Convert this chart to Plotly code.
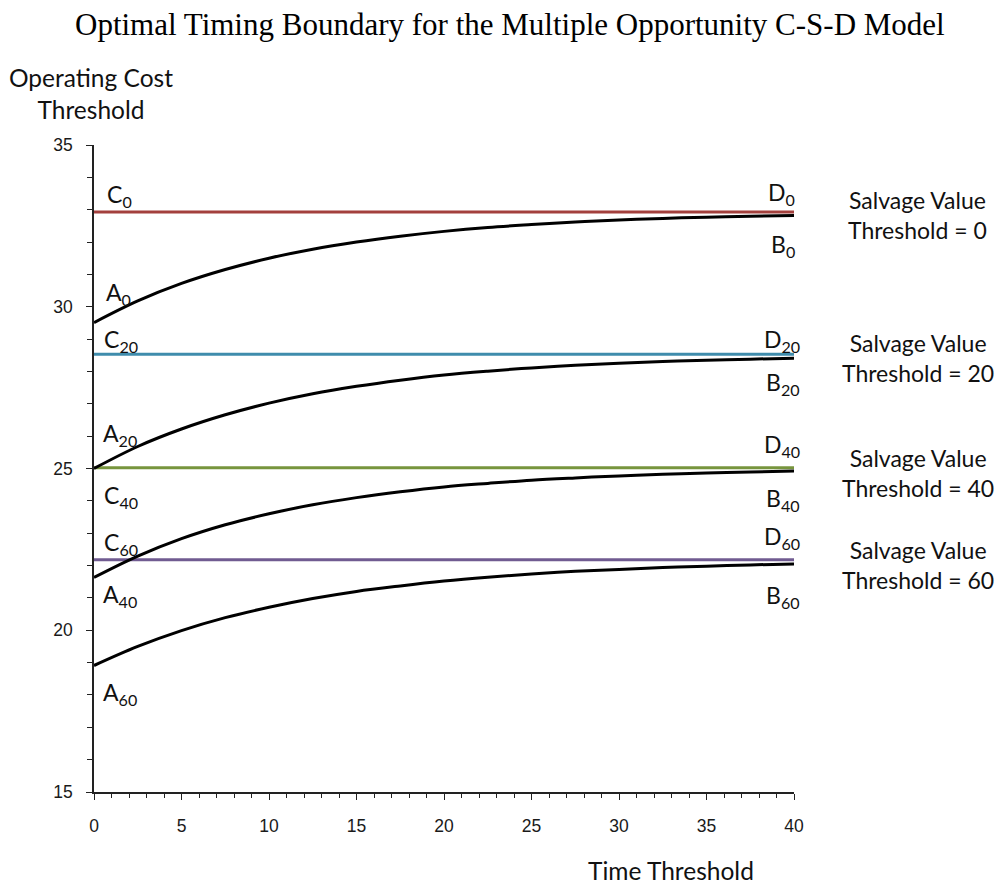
import plotly.graph_objects as go

# ---------------- data ----------------
time_threshold = [0, 2.5, 5, 7.5, 10, 12.5, 15, 17.5, 20, 22.5, 25, 27.5, 30, 32.5, 35, 37.5, 40]

# boundary curves A -> B (operating cost threshold)
curve_0 = [29.51, 30.18, 30.72, 31.15, 31.50, 31.78, 32.00, 32.18, 32.33, 32.45, 32.54, 32.62, 32.68, 32.73, 32.77, 32.80, 32.82]
curve_20 = [25.00, 25.68, 26.22, 26.66, 27.02, 27.31, 27.54, 27.73, 27.89, 28.01, 28.11, 28.19, 28.25, 28.31, 28.35, 28.38, 28.41]
curve_40 = [21.63, 22.29, 22.83, 23.26, 23.60, 23.88, 24.10, 24.28, 24.43, 24.54, 24.64, 24.71, 24.77, 24.82, 24.86, 24.89, 24.92]
curve_60 = [18.91, 19.50, 19.99, 20.39, 20.71, 20.98, 21.20, 21.37, 21.52, 21.64, 21.74, 21.82, 21.88, 21.94, 21.98, 22.02, 22.05]

# horizontal C -> D lines
line_x = [0, 40]
level_0 = 32.93
level_20 = 28.53
level_40 = 25.02
level_60 = 22.18

salvage_values = [0, 20, 40, 60]

x_ticks = [0, 5, 10, 15, 20, 25, 30, 35, 40]
y_ticks = [15, 20, 25, 30, 35]

# ---------------- figure ----------------
LABEL_FONT = "Lato, 'Open Sans', sans-serif"
level_colors = ["#A3403D", "#3F8CAC", "#77953D", "#705B91"]
levels = [level_0, level_20, level_40, level_60]
curves = [curve_0, curve_20, curve_40, curve_60]

fig = go.Figure()
for lev, col, sv in zip(levels, level_colors, salvage_values):
    fig.add_trace(go.Scatter(x=line_x, y=[lev, lev], mode="lines",
                             line=dict(color=col, width=3), name=f"C-D {sv}",
                             showlegend=False, hoverinfo="skip"))
for cur, sv in zip(curves, salvage_values):
    fig.add_trace(go.Scatter(x=time_threshold, y=cur, mode="lines",
                             line=dict(color="black", width=3, shape="spline"),
                             name=f"A-B {sv}", showlegend=False))

annotations = []

def lab(text, x, y, xanchor="center"):
    annotations.append(dict(text=text, x=x, y=y, xref="x", yref="y", showarrow=False,
                            xanchor=xanchor, yanchor="middle",
                            font=dict(family=LABEL_FONT, size=23, color="#111")))

# left-side labels
lab("C<sub>0</sub>", 1.45, 33.45)
lab("A<sub>0</sub>", 1.4, 30.40)
lab("C<sub>20</sub>", 1.55, 28.97)
lab("A<sub>20</sub>", 1.5, 26.04)
lab("C<sub>40</sub>", 1.55, 24.15)
lab("C<sub>60</sub>", 1.55, 22.67)
lab("A<sub>40</sub>", 1.5, 21.06)
lab("A<sub>60</sub>", 1.5, 18.03)
# right-side labels
lab("D<sub>0</sub>", 39.3, 33.49)
lab("B<sub>0</sub>", 39.35, 31.88)
lab("D<sub>20</sub>", 39.3, 28.97)
lab("B<sub>20</sub>", 39.35, 27.64)
lab("D<sub>40</sub>", 39.3, 25.70)
lab("B<sub>40</sub>", 39.35, 24.03)
lab("D<sub>60</sub>", 39.3, 22.86)
lab("B<sub>60</sub>", 39.35, 21.03)

right_y = [32.84, 28.42, 24.86, 22.02]
for sv, yy in zip(salvage_values, right_y):
    annotations.append(dict(text=f"Salvage Value<br>Threshold = {sv}", x=1.177, y=yy,
                            xref="paper", yref="y", showarrow=False, align="center",
                            xanchor="center", yanchor="middle",
                            font=dict(family=LABEL_FONT, size=23, color="#111")))

# title
annotations.append(dict(text="Optimal Timing Boundary for the Multiple Opportunity C-S-D Model",
                        x=0.594, y=1.1855, xref="paper", yref="paper", showarrow=False,
                        xanchor="center", yanchor="middle",
                        font=dict(family="'Liberation Serif', 'Times New Roman', serif", size=31, color="black")))
# axis titles
annotations.append(dict(text="Operating Cost<br>Threshold", x=-0.004, y=1.080,
                        xref="paper", yref="paper", showarrow=False, align="center",
                        xanchor="center", yanchor="middle",
                        font=dict(family=LABEL_FONT, size=24.5, color="#111")))
annotations.append(dict(text="Time Threshold", x=0.824, y=-0.1206,
                        xref="paper", yref="paper", showarrow=False,
                        xanchor="center", yanchor="middle",
                        font=dict(family=LABEL_FONT, size=24.5, color="#111")))

TICK_FONT = dict(family="'Liberation Sans', Arial, sans-serif", size=17.5, color="#1a1a1a")

# page body has an 8px margin, so the figure is 8px smaller to fit the window
fig.update_layout(
    width=997, height=877, autosize=False,
    margin=dict(l=86, r=211, t=137, b=93, pad=0),
    plot_bgcolor="white", paper_bgcolor="white",
    annotations=annotations,
    showlegend=False,
    xaxis=dict(range=[0, 40], tickvals=x_ticks, showgrid=False, zeroline=False,
               showline=True, linecolor="#222", linewidth=1.5,
               ticks="outside", ticklen=6, tickwidth=1.3, tickcolor="#222",
               minor=dict(ticks="outside", ticklen=4, tickwidth=1.3, tickcolor="#222", dtick=1, showgrid=False),
               tickfont=TICK_FONT, ticklabelstandoff=11),
    yaxis=dict(range=[15, 35], tickvals=y_ticks, showgrid=False, zeroline=False,
               showline=True, linecolor="#222", linewidth=1.5,
               ticks="outside", ticklen=6, tickwidth=1.3, tickcolor="#222",
               minor=dict(ticks="outside", ticklen=5, tickwidth=1.3, tickcolor="#222", dtick=1, showgrid=False),
               tickfont=TICK_FONT, ticklabelstandoff=10),
)

fig.write_html("out.html")
